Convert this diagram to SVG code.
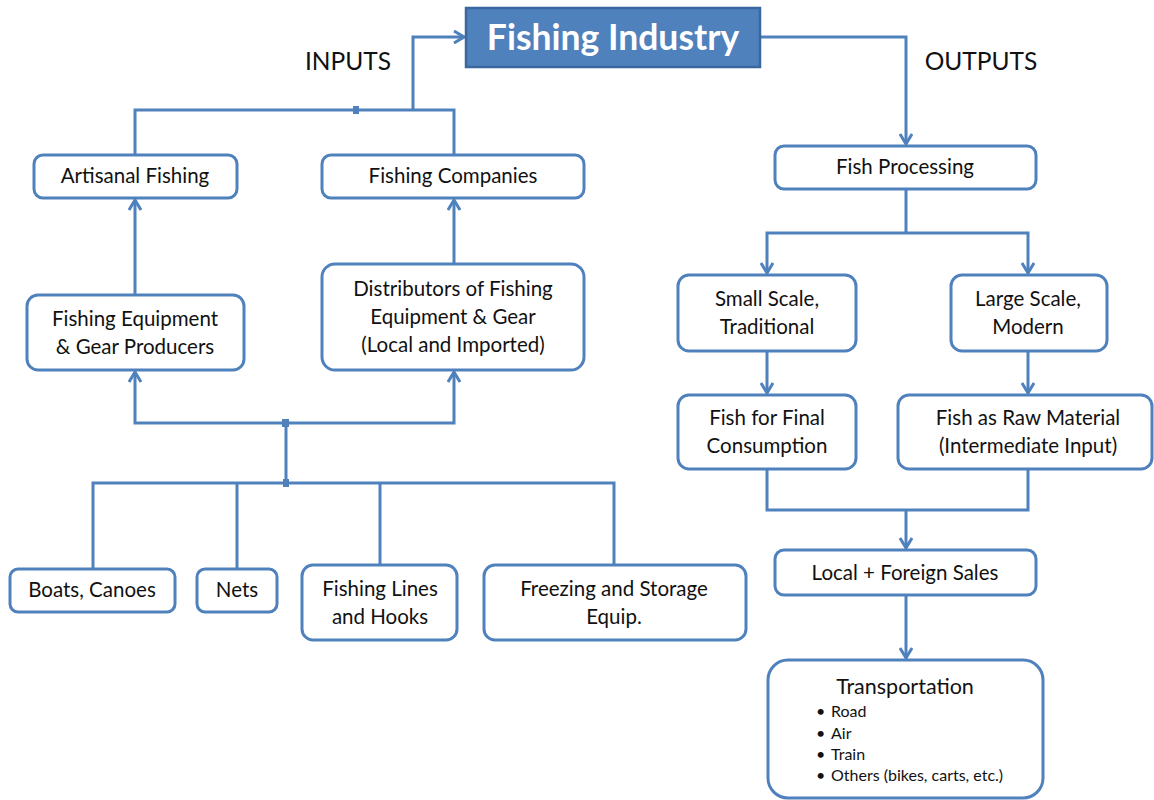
<svg xmlns="http://www.w3.org/2000/svg" width="1154" height="800" viewBox="0 0 1154 800">
<style>
.box{fill:#fff;stroke:#4F81BD;stroke-width:3}
.t{font-family:Lato,"Liberation Sans",sans-serif;font-size:20.5px;fill:#111;text-anchor:middle}
.lbl{font-family:Lato,"Liberation Sans",sans-serif;font-size:24.5px;fill:#111;text-anchor:middle}
.c{fill:none;stroke:#4F81BD;stroke-width:3}
.b{font-family:Lato,"Liberation Sans",sans-serif;font-size:16px;fill:#111}
</style>
<defs>
<marker id="ah" viewBox="0 0 12 14" refX="11" refY="7" markerWidth="12" markerHeight="14" markerUnits="userSpaceOnUse" orient="auto">
<path d="M1,1 L11,7 L1,13" fill="none" stroke="#4F81BD" stroke-width="3"/>
</marker>
</defs>
<rect width="1154" height="800" fill="#fff"/>
<text class="lbl" x="348" y="70">INPUTS</text>
<text class="lbl" x="981" y="70">OUTPUTS</text>
<g id="connectors">
<path class="c" d="M135,155 V110 H454 V155"/>
<path class="c" d="M413,110 V37 H464" marker-end="url(#ah)"/>
<path class="c" d="M760,37 H906 V144" marker-end="url(#ah)"/>
<path class="c" d="M135,295 V200" marker-end="url(#ah)"/>
<path class="c" d="M454,264 V200" marker-end="url(#ah)"/>
<path class="c" d="M286,423 H135 V372" marker-end="url(#ah)"/>
<path class="c" d="M286,423 H454 V372" marker-end="url(#ah)"/>
<path class="c" d="M286,423 V483"/>
<path class="c" d="M93,569 V483 H614 V565"/>
<path class="c" d="M237,569 V483"/>
<path class="c" d="M380,565 V483"/>
<rect x="353" y="106" width="6" height="8" fill="#4F81BD"/>
<rect x="282" y="419" width="7" height="8" fill="#4F81BD"/>
<rect x="283" y="479" width="6" height="8" fill="#4F81BD"/>
<path class="c" d="M906,189 V233"/>
<path class="c" d="M906,233 H767 V273" marker-end="url(#ah)"/>
<path class="c" d="M906,233 H1028 V273" marker-end="url(#ah)"/>
<path class="c" d="M767,351 V393" marker-end="url(#ah)"/>
<path class="c" d="M1028,351 V393" marker-end="url(#ah)"/>
<path class="c" d="M767,469 V510 H1028 V469"/>
<path class="c" d="M906,510 V548" marker-end="url(#ah)"/>
<path class="c" d="M906,595 V658" marker-end="url(#ah)"/>
</g>
<g id="title">
<rect x="466" y="8" width="294" height="59" fill="#4F81BD" stroke="#3A679E" stroke-width="2.5"/>
<text x="613" y="50" font-family="Lato,'Liberation Sans',sans-serif" font-size="35.5" font-weight="bold" fill="#fff" text-anchor="middle">Fishing Industry</text>
</g>
<g id="artisanal"><rect class="box" x="34" y="155" width="203" height="43" rx="9"/><text class="t" x="135" y="183">Artisanal Fishing</text></g>
<g id="companies"><rect class="box" x="322" y="155" width="262" height="43" rx="9"/><text class="t" x="453" y="183">Fishing Companies</text></g>
<g id="producers"><rect class="box" x="27" y="295" width="217" height="75" rx="11"/><text class="t" x="135" y="326">Fishing Equipment</text><text class="t" x="135" y="354">&amp; Gear Producers</text></g>
<g id="distributors"><rect class="box" x="322" y="264" width="262" height="106" rx="13"/><text class="t" x="453" y="296">Distributors of Fishing</text><text class="t" x="453" y="324">Equipment &amp; Gear</text><text class="t" x="453" y="352">(Local and Imported)</text></g>
<g id="boats"><rect class="box" x="10" y="569" width="165" height="43" rx="8"/><text class="t" x="92" y="597">Boats, Canoes</text></g>
<g id="nets"><rect class="box" x="197" y="569" width="80" height="43" rx="8"/><text class="t" x="237" y="597">Nets</text></g>
<g id="lines"><rect class="box" x="302" y="565" width="155" height="75" rx="11"/><text class="t" x="380" y="596">Fishing Lines</text><text class="t" x="380" y="624">and Hooks</text></g>
<g id="freezing"><rect class="box" x="484" y="565" width="262" height="75" rx="11"/><text class="t" x="614" y="596">Freezing and Storage</text><text class="t" x="614" y="624">Equip.</text></g>
<g id="processing"><rect class="box" x="775" y="146" width="261" height="43" rx="9"/><text class="t" x="905" y="174">Fish Processing</text></g>
<g id="small"><rect class="box" x="678" y="275" width="178" height="76" rx="11"/><text class="t" x="767" y="306">Small Scale,</text><text class="t" x="767" y="334">Traditional</text></g>
<g id="large"><rect class="box" x="951" y="275" width="156" height="76" rx="11"/><text class="t" x="1028" y="306">Large Scale,</text><text class="t" x="1028" y="334">Modern</text></g>
<g id="final"><rect class="box" x="678" y="395" width="178" height="74" rx="11"/><text class="t" x="767" y="425">Fish for Final</text><text class="t" x="767" y="453">Consumption</text></g>
<g id="raw"><rect class="box" x="898" y="395" width="254" height="74" rx="11"/><text class="t" x="1028" y="425">Fish as Raw Material</text><text class="t" x="1028" y="453">(Intermediate Input)</text></g>
<g id="sales"><rect class="box" x="775" y="550" width="261" height="45" rx="9"/><text class="t" x="905" y="580">Local + Foreign Sales</text></g>
<g id="transport"><rect class="box" x="768" y="660" width="275" height="138" rx="20"/>
<text x="905" y="694" font-family="Lato,'Liberation Sans',sans-serif" font-size="21.5" fill="#111" text-anchor="middle">Transportation</text>
<text class="b" x="816" y="717">•</text><text class="b" x="831" y="717">Road</text>
<text class="b" x="816" y="739">•</text><text class="b" x="831" y="739">Air</text>
<text class="b" x="816" y="760">•</text><text class="b" x="831" y="760">Train</text>
<text class="b" x="816" y="781">•</text><text class="b" x="831" y="781">Others (bikes, carts, etc.)</text>
</g>
</svg>
